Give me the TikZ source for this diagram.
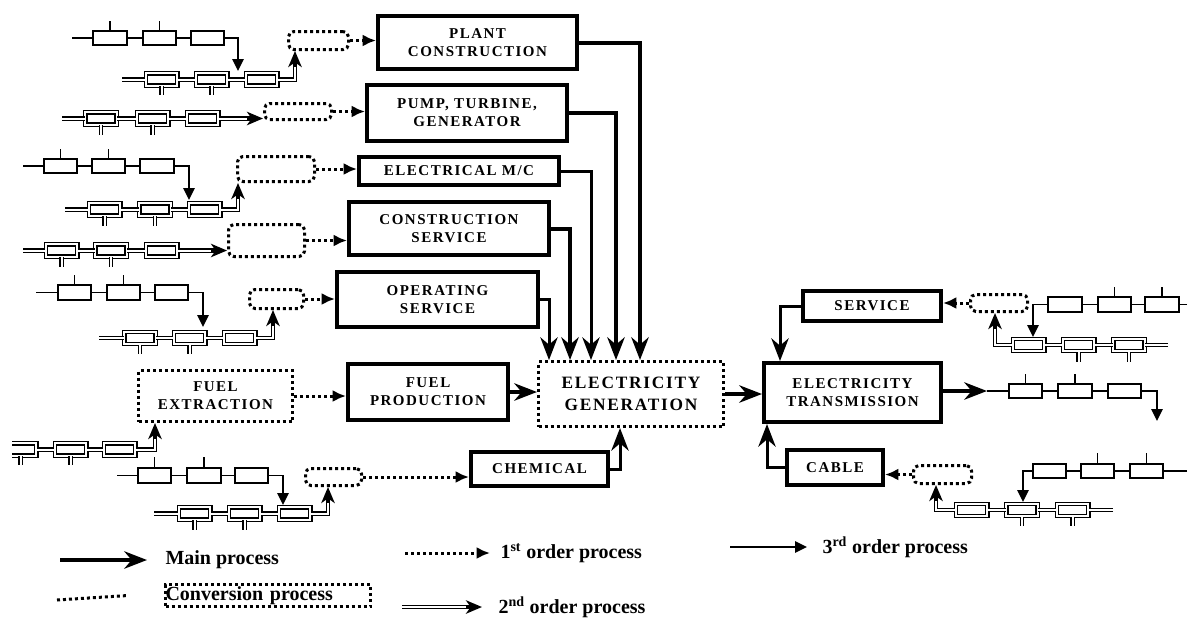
\documentclass[tikz,border=0pt]{standalone}
\usepackage{fontspec}
\setmainfont{Liberation Serif}
\newfontfamily\boxfont[LetterSpace=10]{Liberation Serif}
\usetikzlibrary{arrows.meta}

\tikzset{every picture/.style={line width=0.75pt}}
\tikzset{
  mainbox/.style={draw, line width=3pt, align=center, inner sep=0pt,
    font=\boxfont\bfseries\fontsize{11.25}{13.5}\selectfont},
  bigconv/.style={draw, line width=2.25pt, dash pattern=on 2.25pt off 2.25pt, align=center, inner sep=0pt},
  convbox/.style={draw, line width=2.25pt, dash pattern=on 2.25pt off 2.25pt, rounded corners=4pt, inner sep=0pt},
  tbox/.style={draw, line width=1.3pt, minimum width=25pt, minimum height=11pt, inner sep=0pt},
  dbox/.style={draw, double, double distance=1.5pt, line width=1pt, minimum width=23.5pt, minimum height=9.2pt, inner sep=0pt},
  tline/.style={line width=1.2pt},
  dline/.style={double, double distance=1.5pt, line width=0.9pt},
  dotline/.style={line width=2.25pt, dash pattern=on 2.25pt off 2.25pt},
  mainline/.style={line width=3pt, -{Stealth[length=17pt,width=13pt,inset=5.5pt]}},
  first/.style={dotline, -{Latex[length=10pt,width=9pt]}},
  second/.style={line width=3.3pt, -{Stealth[length=12pt,width=10pt,inset=3.5pt]},
    postaction={draw=white, line width=1.5pt, arrows=-, shorten >=12pt}},
  third/.style={tline, -{Triangle[length=9pt,width=8.5pt]}},
  legfont/.style={inner sep=0pt, font=\bfseries\fontsize{15}{18}\selectfont},
}

\begin{document}
\begin{tikzpicture}[x=0.75pt,y=0.75pt,yscale=-1,xscale=1]
\useasboundingbox (0,0) rectangle (1195,618);

%Shape: main process boxes
\node[mainbox, minimum width=149.25pt, minimum height=39.75pt] (plant) at (477.5,42.5) {PLANT\\CONSTRUCTION};
\node[mainbox, minimum width=150pt, minimum height=42pt] (pump) at (467,113) {PUMP, TURBINE,\\GENERATOR};
\node[mainbox, minimum width=150pt, minimum height=21pt] (elecmc) at (459,171) {ELECTRICAL M/C};
\node[mainbox, minimum width=150pt, minimum height=39.75pt] (constr) at (449,228.5) {CONSTRUCTION\\SERVICE};
\node[mainbox, minimum width=150.75pt, minimum height=41.25pt] (oper) at (437.5,299.5) {OPERATING\\SERVICE};
\node[mainbox, minimum width=120pt, minimum height=42pt] (fuelprod) at (428,392) {FUEL\\PRODUCTION};
\node[mainbox, minimum width=102.75pt, minimum height=25.5pt] (chem) at (539.5,469) {CHEMICAL};
\node[mainbox, minimum width=132.75pt, minimum height=44.25pt] (trans) at (852.5,392.5) {ELECTRICITY\\TRANSMISSION};
\node[mainbox, minimum width=103.5pt, minimum height=22.5pt] (service) at (872,306) {SERVICE};
\node[mainbox, minimum width=72pt, minimum height=26.25pt] (cable) at (835,467.5) {CABLE};

%Shape: big conversion boxes
\node[bigconv, minimum width=138.75pt, minimum height=48.75pt, font=\boxfont\bfseries\fontsize{13}{16}\selectfont] (elecgen) at (631,394) {ELECTRICITY\\GENERATION};
\node[bigconv, minimum width=115.5pt, minimum height=38.25pt, font=\boxfont\bfseries\fontsize{11.25}{13.5}\selectfont] (fuelext) at (215.5,396) {FUEL\\EXTRACTION};

%Shape: small conversion boxes
\node[convbox, minimum width=45pt, minimum height=13.5pt] (cA) at (318.5,40.5) {};
\node[convbox, minimum width=50.25pt, minimum height=12pt] (cB) at (298,111.5) {};
\node[convbox, minimum width=57.75pt, minimum height=18.75pt] (cC) at (276,169) {};
\node[convbox, minimum width=57pt, minimum height=24pt] (cD) at (266.5,240.5) {};
\node[convbox, minimum width=40.5pt, minimum height=14.25pt] (cE) at (276.5,299) {};
\node[convbox, minimum width=42pt, minimum height=12.75pt] (cF) at (333.5,477) {};
\node[convbox, minimum width=42.75pt, minimum height=12.75pt] (cS) at (999,303) {};
\node[convbox, minimum width=43.5pt, minimum height=13.5pt] (cK) at (942.5,474.5) {};

% Arrow ends
\coordinate (in1) at (549,360);
\coordinate (in2) at (570,360);
\coordinate (in3) at (591,360);
\coordinate (in4) at (616,360);
\coordinate (in5) at (640,360);
\coordinate (in6) at (620,428);
\coordinate (t1) at (780,361);
\coordinate (t2) at (767,424);
\coordinate (o0) at (987,391);

%Straight Lines: main process
\draw[mainline] (plant.east) -| (in5);
\draw[mainline] (pump.east) -| (in4);
\draw[mainline, line width=2.25pt] (elecmc.east) -| (in3);
\draw[mainline] (constr.east) -| (in2);
\draw[mainline, line width=2.25pt] (oper.east) -| (in1);
\draw[mainline, line width=2.25pt] (chem.east) -| (in6);
\draw[mainline] (fuelprod.east) -- (fuelprod.east -| elecgen.west);
\draw[mainline] (elecgen.east) -- (elecgen.east -| trans.west);
\draw[mainline, line width=2.25pt] (service.west) -| (t1);
\draw[mainline, line width=2.25pt] (cable.west) -| (t2);
\draw[mainline] (trans.east |- o0) -- (o0);

%Straight Lines: 1st order
\draw[first] (cA.east) -- (cA.east -| plant.west);
\draw[first] (cB.east) -- (cB.east -| pump.west);
\draw[first] (cC.east) -- (cC.east -| elecmc.west);
\draw[first] (cD.east) -- (cD.east -| constr.west);
\draw[first] (cE.east) -- (cE.east -| oper.west);
\draw[first] (cF.east) -- (cF.east -| chem.west);
\draw[first] (fuelext.east) -- (fuelext.east -| fuelprod.west);
\draw[first] (cS.west) -- (cS.west -| service.east);
\draw[first] (cK.west) -- (cK.west -| cable.east);

% Row A (3rd order)
\coordinate (a0) at (72,38);
\node[tbox] (a1) at (110,38) {};
\node[tbox] (a2) at (159.5,38) {};
\node[tbox] (a3) at (207.5,38) {};
\coordinate (tA) at (238,71);
\draw[tline] (a0) -- (a1) (a1) -- (a2) (a2) -- (a3);
\draw[tline] (a1.north) -- ++(0,-9) (a2.north) -- ++(0,-9);
\draw[third] (a3.east) -| (tA);

% Row B (2nd order)
\coordinate (b0) at (122,79.5);
\node[dbox] (b1) at (161.5,79.5) {};
\node[dbox] (b2) at (211.5,79.5) {};
\node[dbox] (b3) at (261.5,79.5) {};
\coordinate (uA) at (295,51);
\draw[dline] (b0) -- (b1) (b1) -- (b2) (b2) -- (b3);
\draw[dline] (b1.south) -- ++(0,9) (b2.south) -- ++(0,9);
\draw[second] (b3.east) -| (uA);

% Row C (2nd order)
\coordinate (c0) at (62,118.5);
\node[dbox] (c1) at (101,118.5) {};
\node[dbox] (c2) at (152.5,118.5) {};
\node[dbox] (c3) at (202.5,118.5) {};
\draw[dline] (c0) -- (c1) (c1) -- (c2) (c2) -- (c3);
\draw[dline] (c1.south) -- ++(0,10) (c2.south) -- ++(0,10);
\draw[second] (c3.east) -- (c3.east -| cB.west);

% Row D (3rd order)
\coordinate (d0) at (23,166);
\node[tbox] (d1) at (60.5,166) {};
\node[tbox] (d2) at (108.5,166) {};
\node[tbox] (d3) at (157,166) {};
\coordinate (tD) at (189,200);
\draw[tline] (d0) -- (d1) (d1) -- (d2) (d2) -- (d3);
\draw[tline] (d1.north) -- ++(0,-9) (d2.north) -- ++(0,-9);
\draw[third] (d3.east) -| (tD);

% Row E (2nd order)
\coordinate (e0) at (65,209.5);
\node[dbox] (e1) at (104.5,209.5) {};
\node[dbox] (e2) at (155,209.5) {};
\node[dbox] (e3) at (204.5,209.5) {};
\coordinate (uC) at (238,183);
\draw[dline] (e0) -- (e1) (e1) -- (e2) (e2) -- (e3);
\draw[dline] (e1.south) -- ++(0,10) (e2.south) -- ++(0,10);
\draw[second] (e3.east) -| (uC);

% Row F (2nd order)
\coordinate (f0) at (23,250.5);
\node[dbox] (f1) at (61.5,250.5) {};
\node[dbox] (f2) at (111,250.5) {};
\node[dbox] (f3) at (161.5,250.5) {};
\draw[dline] (f0) -- (f1) (f1) -- (f2) (f2) -- (f3);
\draw[dline] (f1.south) -- ++(0,10) (f2.south) -- ++(0,10);
\draw[second] (f3.east) -- (f3.east -| cD.west);

% Row G (3rd order)
\coordinate (g0) at (36,292.5);
\node[tbox] (g1) at (74.5,292.5) {};
\node[tbox] (g2) at (123.5,292.5) {};
\node[tbox] (g3) at (171.5,292.5) {};
\coordinate (tG) at (203,327);
\draw[tline] (g0) -- (g1) (g1) -- (g2) (g2) -- (g3);
\draw[tline] (g1.north) -- ++(0,-9) (g2.north) -- ++(0,-9);
\draw[third] (g3.east) -| (tG);

% Row H (2nd order)
\coordinate (h0) at (99,338);
\node[dbox] (h1) at (140,338) {};
\node[dbox] (h2) at (189.5,338) {};
\node[dbox] (h3) at (239.5,338) {};
\coordinate (uE) at (273,310);
\draw[dline] (h0) -- (h1) (h1) -- (h2) (h2) -- (h3);
\draw[dline] (h1.south) -- ++(0,9) (h2.south) -- ++(0,9);
\draw[second] (h3.east) -| (uE);

% Row I (2nd order, cut at the left edge)
\begin{scope}
\clip (12,430) rectangle (45,475);
\node[dbox] (i1) at (20.5,449.5) {};
\draw[dline] (i1.south) -- ++(0,9);
\end{scope}
\node[dbox] (i2) at (70.5,449.5) {};
\node[dbox] (i3) at (119.5,449.5) {};
\coordinate (uI) at (155,423);
\draw[dline] (i1) -- (i2) (i2) -- (i3);
\draw[dline] (i2.south) -- ++(0,9);
\draw[second] (i3.east) -| (uI);

% Row J (3rd order)
\coordinate (j0) at (117,475.5);
\node[tbox] (j1) at (154.5,475.5) {};
\node[tbox] (j2) at (204,475.5) {};
\node[tbox] (j3) at (251.5,475.5) {};
\coordinate (tJ) at (283,505);
\draw[tline] (j0) -- (j1) (j1) -- (j2) (j2) -- (j3);
\draw[tline] (j1.north) -- ++(0,-10) (j2.north) -- ++(0,-10);
\draw[third] (j3.east) -| (tJ);

% Row K (2nd order)
\coordinate (k0) at (154,513.5);
\node[dbox] (k1) at (194.5,513.5) {};
\node[dbox] (k2) at (244.5,513.5) {};
\node[dbox] (k3) at (294.5,513.5) {};
\coordinate (uF) at (328,487);
\draw[dline] (k0) -- (k1) (k1) -- (k2) (k2) -- (k3);
\draw[dline] (k1.south) -- ++(0,10) (k2.south) -- ++(0,10);
\draw[second] (k3.east) -| (uF);

% Row S (3rd order, right)
\coordinate (s0) at (1187,304.5);
\node[tbox] (s1) at (1065,304.5) {};
\node[tbox] (s2) at (1114.5,304.5) {};
\node[tbox] (s3) at (1162,304.5) {};
\coordinate (tS) at (1033,337);
\draw[tline] (s0) -- (s3) (s3) -- (s2) (s2) -- (s1);
\draw[tline] (s2.north) -- ++(0,-9) (s3.north) -- ++(0,-9);
\draw[third] (s1.west) -| (tS);

% Row R (2nd order, right)
\coordinate (r0) at (1168,345);
\node[dbox] (r1) at (1028.5,345) {};
\node[dbox] (r2) at (1078.5,345) {};
\node[dbox] (r3) at (1129,345) {};
\coordinate (uS) at (995,313);
\draw[dline] (r0) -- (r3) (r3) -- (r2) (r2) -- (r1);
\draw[dline] (r2.south) -- ++(0,10) (r3.south) -- ++(0,10);
\draw[second] (r1.west) -| (uS);

% Row O (3rd order, after transmission)
\node[tbox] (o1) at (1025.5,391) {};
\node[tbox] (o2) at (1075,391) {};
\node[tbox] (o3) at (1124.5,391) {};
\coordinate (tT) at (1157,421);
\draw[tline] (o0) -- (o1) (o1) -- (o2) (o2) -- (o3);
\draw[tline] (o1.north) -- ++(0,-9) (o2.north) -- ++(0,-9);
\draw[third] (o3.east) -| (tT);

% Row Q (3rd order, right)
\coordinate (q0) at (1187,471);
\node[tbox] (q1) at (1049.5,471) {};
\node[tbox] (q2) at (1097.5,471) {};
\node[tbox] (q3) at (1146.5,471) {};
\coordinate (tK) at (1023,502);
\draw[tline] (q0) -- (q3) (q3) -- (q2) (q2) -- (q1);
\draw[tline] (q2.north) -- ++(0,-10) (q3.north) -- ++(0,-10);
\draw[third] (q1.west) -| (tK);

% Row P (2nd order, right)
\coordinate (p0) at (1113,510);
\node[dbox] (p1) at (971.5,510) {};
\node[dbox] (p2) at (1022,510) {};
\node[dbox] (p3) at (1072.5,510) {};
\coordinate (uK) at (936,485);
\draw[dline] (p0) -- (p3) (p3) -- (p2) (p2) -- (p1);
\draw[dline] (p2.south) -- ++(0,9) (p3.south) -- ++(0,9);
\draw[second] (p1.west) -| (uK);

% Legend
\coordinate (lg1) at (60,560);
\node[legfont, anchor=west] (lgmain) at (165,560) {Main process};
\draw[mainline] (lg1) -- ([xshift=-13.5pt]lgmain.west);

\coordinate (lg2) at (405,553);
\node[legfont, anchor=west] (lgfirst) at (500,553) {1\textsuperscript{st} order process};
\draw[first] (lg2) -- ([xshift=-7.5pt]lgfirst.west);

\coordinate (lg3) at (730,547);
\node[legfont, anchor=west] (lgthird) at (822,547) {3\textsuperscript{rd} order process};
\draw[third] (lg3) -- ([xshift=-11.25pt]lgthird.west);

\coordinate (lg4) at (402,607);
\node[legfont, anchor=west] (lgsecond) at (498,607) {2\textsuperscript{nd} order process};
\draw[second] (lg4) -- ([xshift=-12pt]lgsecond.west);

\coordinate (lg5) at (57,600);
\node[bigconv, legfont, minimum width=153.75pt, minimum height=16.5pt, text width=153.75pt, align=left] (lgconv) at (268,595.5) {Conversion process};
\draw[dotline] (lg5) -- ([xshift=-27pt]lgconv.west);

\end{tikzpicture}
\end{document}
